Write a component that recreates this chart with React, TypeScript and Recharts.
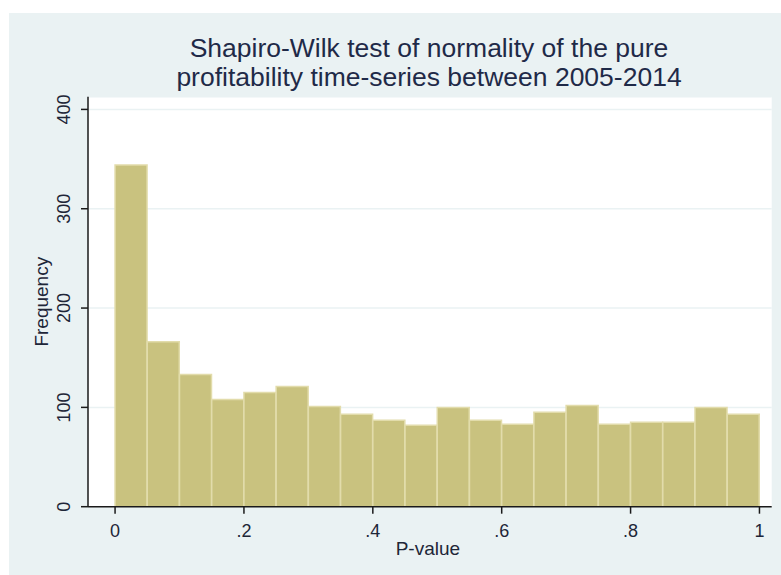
import React from 'react';
import { BarChart, Bar, XAxis, YAxis, CartesianGrid } from 'recharts';

const titleLines = [
  'Shapiro-Wilk test of normality of the pure',
  'profitability time-series between 2005-2014',
];
const xAxisTitle = 'P-value';
const yAxisTitle = 'Frequency';

const binStarts = [0, 0.05, 0.1, 0.15, 0.2, 0.25, 0.3, 0.35, 0.4, 0.45, 0.5, 0.55, 0.6, 0.65, 0.7, 0.75, 0.8, 0.85, 0.9, 0.95];
const binWidth = 0.05;
const frequencies = [344, 166, 133, 108, 115, 121, 101, 93, 87, 82, 100, 87, 83, 95, 102, 83, 85, 85, 100, 93];

const xTicks = [0, 0.2, 0.4, 0.6, 0.8, 1];
const xTickLabels = ['0', '.2', '.4', '.6', '.8', '1'];
const yTicks = [0, 100, 200, 300, 400];
const yTickLabels = ['0', '100', '200', '300', '400'];

const data = binStarts.map((s, i) => ({ mid: s + binWidth / 2, freq: frequencies[i] }));

const FONT = '"Liberation Sans", Arial, Helvetica, sans-serif';
const TEXT = '#1e2638';
const TITLE = '#1f2a48';
const BG = '#eaf2f3';

const XTick = (props: any) => {
  const { x, y, payload } = props;
  const idx = xTicks.findIndex((t) => Math.abs(t - payload.value) < 1e-9);
  return (
    <text x={x} y={y} textAnchor="middle" fontSize={18} fontFamily={FONT} fill={TEXT}>
      {idx >= 0 ? xTickLabels[idx] : ''}
    </text>
  );
};

const YTick = (props: any) => {
  const { x, y, payload } = props;
  const idx = yTicks.findIndex((t) => t === payload.value);
  return (
    <text
      x={x}
      y={y}
      transform={`rotate(-90, ${x}, ${y})`}
      textAnchor="middle"
      fontSize={18}
      fontFamily={FONT}
      fill={TEXT}
    >
      {idx >= 0 ? yTickLabels[idx] : ''}
    </text>
  );
};

export default function App() {
  return (
    <div style={{ position: 'absolute', left: 0, top: 0, width: 781, height: 575, background: '#ffffff', overflow: 'hidden' }}>
      <div style={{ position: 'absolute', left: 9, top: 13, width: 772, height: 562, background: BG }}>
        <BarChart
          width={772}
          height={562}
          data={data}
          margin={{ top: 83.7, right: 9.3, bottom: 0, left: 0 }}
          barCategoryGap={0}
          barGap={0}
        >
          <CartesianGrid vertical={false} stroke={BG} strokeWidth={1.5} fill="#ffffff" fillOpacity={1} />
          <XAxis
            dataKey="mid"
            type="number"
            domain={[-0.042, 1.019]}
            allowDataOverflow
            ticks={xTicks}
            interval={0}
            height={68.3}
            tickSize={7}
            tickMargin={23}
            tick={<XTick />}
            axisLine={{ stroke: '#1a1a1a', strokeWidth: 1.5 }}
            tickLine={{ stroke: '#1a1a1a', strokeWidth: 1.5 }}
            label={{
              value: xAxisTitle,
              position: 'insideBottom',
              offset: 20,
              dx: -2,
              style: { fontSize: 19, fontFamily: FONT, fill: TEXT },
            }}
          />
          <YAxis
            type="number"
            domain={[0, 412.8]}
            allowDataOverflow
            ticks={yTicks}
            interval={0}
            width={79}
            tickSize={7}
            tickMargin={11}
            tick={<YTick />}
            axisLine={{ stroke: '#1a1a1a', strokeWidth: 1.5 }}
            tickLine={{ stroke: '#1a1a1a', strokeWidth: 1.5 }}
            label={{
              value: yAxisTitle,
              angle: -90,
              position: 'insideLeft',
              offset: 32,
              style: { fontSize: 19, fontFamily: FONT, fill: TEXT, textAnchor: 'middle' },
            }}
          />
          <Bar dataKey="freq" fill="#c9c27f" stroke="#e2dcab" strokeWidth={1.5} isAnimationActive={false} />
        </BarChart>
      </div>
      <svg style={{ position: 'absolute', left: 0, top: 0 }} width={781} height={100}>
        <text x={429} y={57} textAnchor="middle" fontSize={26.5} fontFamily={FONT} fill={TITLE}>
          {titleLines[0]}
        </text>
        <text x={429} y={86} textAnchor="middle" fontSize={26.5} fontFamily={FONT} fill={TITLE}>
          {titleLines[1]}
        </text>
      </svg>
    </div>
  );
}
